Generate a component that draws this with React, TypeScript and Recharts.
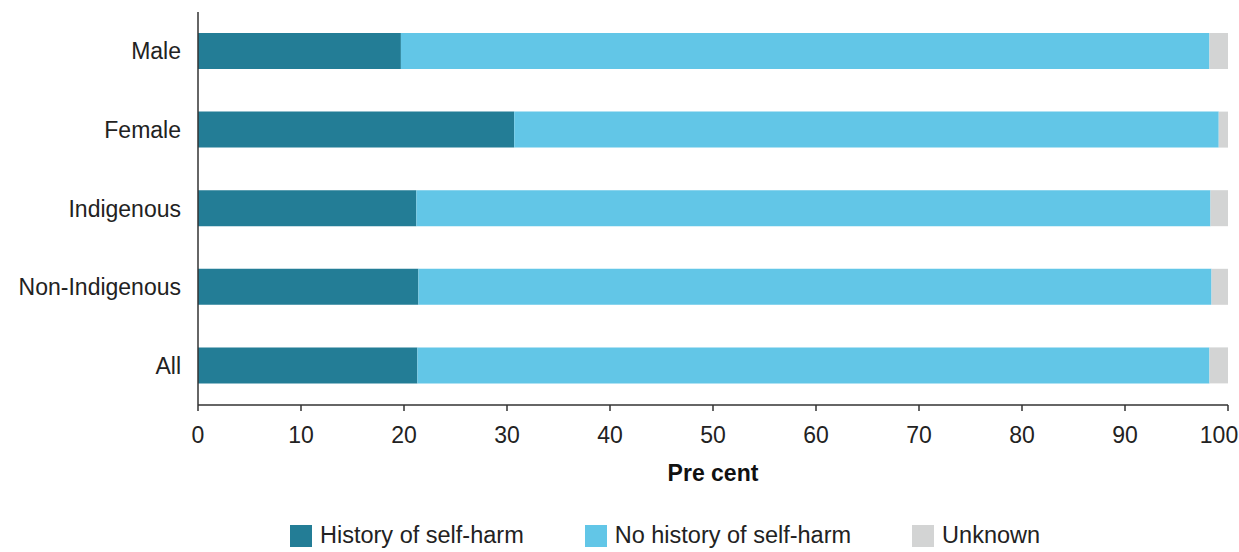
import React from "react";
import { BarChart, Bar, XAxis, YAxis, Legend } from "recharts";

const groups = ["Male", "Female", "Indigenous", "Non-Indigenous", "All"];
const historyOfSelfHarm = [19.7, 30.7, 21.2, 21.4, 21.3];
const noHistoryOfSelfHarm = [78.5, 68.4, 77.1, 77.0, 76.9];
const unknown = [1.8, 0.9, 1.7, 1.6, 1.8];
const xTicks = [0, 10, 20, 30, 40, 50, 60, 70, 80, 90, 100];

const data = groups.map((g, i) => ({
  group: g,
  history: historyOfSelfHarm[i],
  noHistory: noHistoryOfSelfHarm[i],
  unknown: unknown[i],
}));

const series = [
  { key: "history", name: "History of self-harm", color: "#237D96" },
  { key: "noHistory", name: "No history of self-harm", color: "#62C6E7" },
  { key: "unknown", name: "Unknown", color: "#D3D4D4" },
];

const font = "'Liberation Sans', Arial, sans-serif";

// last tick label pulled in so it stays inside the picture
const XTick = (props: any) => {
  const { x, y, payload } = props;
  const shift = payload.value === 100 ? -9 : 0;
  return (
    <text
      x={x + shift}
      y={y}
      dy={26}
      textAnchor="middle"
      fill="#222"
      fontSize={23}
      fontFamily={font}
    >
      {payload.value}
    </text>
  );
};

const LegendBox = () => (
  <div
    style={{
      height: 67,
      position: "relative",
      fontFamily: font,
      fontSize: 23.5,
      color: "#222",
    }}
  >
    <div
      style={{
        position: "absolute",
        left: 290,
        top: 37,
        display: "flex",
        alignItems: "center",
        whiteSpace: "nowrap",
      }}
    >
      {series.map((s, i) => (
        <div
          key={s.key}
          style={{ display: "flex", alignItems: "center", marginRight: i < 2 ? 61 : 0 }}
        >
          <span
            style={{ width: 22, height: 22, background: s.color, display: "inline-block", marginRight: 8 }}
          />
          <span>{s.name}</span>
        </div>
      ))}
    </div>
  </div>
);

const App: React.FC = () => {
  return (
    <div style={{ position: "absolute", left: 0, top: 0, width: 1239, height: 552, background: "#fff" }}>
      <BarChart
        layout="vertical"
        width={1239}
        height={552}
        data={data}
        margin={{ top: 12, right: 11, bottom: 0, left: 0 }}
        barSize={36}
      >
        <XAxis
          type="number"
          domain={[0, 100]}
          ticks={xTicks}
          interval={0}
          height={80}
          axisLine={{ stroke: "#333", strokeWidth: 1.5 }}
          tickLine={{ stroke: "#333", strokeWidth: 1.5 }}
          tickSize={6}
          tickMargin={6}
          tick={<XTick />}
          label={{
            value: "Pre cent",
            position: "insideBottom",
            offset: 4,
            fill: "#111",
            fontSize: 23,
            fontWeight: "bold",
            fontFamily: font,
          }}
        />
        <YAxis
          type="category"
          dataKey="group"
          width={198}
          axisLine={{ stroke: "#333", strokeWidth: 1.5 }}
          tickLine={false}
          tickSize={8}
          tickMargin={9}
          tick={{ fill: "#222", fontSize: 23, fontFamily: font }}
        />
        <Legend verticalAlign="bottom" content={() => <LegendBox />} />
        {series.map((s) => (
          <Bar
            key={s.key}
            dataKey={s.key}
            name={s.name}
            stackId="a"
            fill={s.color}
            isAnimationActive={false}
          />
        ))}
      </BarChart>
    </div>
  );
};

export default App;
